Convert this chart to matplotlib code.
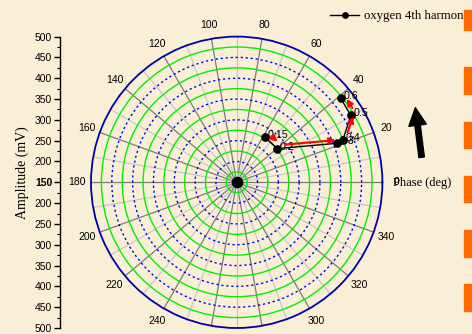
import numpy as np
import matplotlib
matplotlib.use('Agg')
import matplotlib.pyplot as plt
import matplotlib.transforms as mtransforms
from matplotlib.patches import Rectangle, FancyArrowPatch, ArrowStyle
from matplotlib.ticker import FixedLocator

# ---------------- data ----------------
phase_deg = [58.3, 39.6, 21.3, 21.6, 30.4, 38.9]
amplitude = [278, 277, 408, 424, 468, 471]
point_labels = ['0.15', '0.2', '0.3', '0.4', '0.5', '0.6']
arrow_pairs = [(0, 1), (1, 2), (3, 4), (4, 5)]
series_name = 'oxygen 4th harmonic'

r_min, r_max = 150, 500
r_major_grid = [175, 225, 275, 325, 375, 425, 475]
r_minor_grid = [200, 250, 300, 350, 400, 450]
theta_major = list(range(0, 360, 20))
theta_minor = list(range(10, 360, 20))
amp_tick_values = [150, 200, 250, 300, 350, 400, 450, 500]
amp_minor_values = [175, 225, 275, 325, 375, 425, 475]

plt.rcParams['font.family'] = ['Liberation Sans', 'DejaVu Sans']
SERIF = ['Liberation Serif', 'DejaVu Serif']

W, H = 472, 334
fig = plt.figure(figsize=(W / 100, H / 100), dpi=100)
fig.patch.set_facecolor('#F9EFD7')

cx, cy, R = 236.7, 182.3, 145.7
rect = [(cx - R) / W, (H - cy - R) / H, 2 * R / W, 2 * R / H]
ax = fig.add_axes(rect, projection='polar')
ax.set_facecolor('none')
ax.set_ylim(r_min, r_max)

# theta grid / ticks
ax.set_xticks(np.deg2rad(theta_major))
ax.set_xticklabels([str(t) for t in theta_major])
ax.xaxis.set_minor_locator(FixedLocator(np.deg2rad(theta_minor)))
ax.grid(which='major', axis='x', color='#7A7A7A', lw=0.9)
ax.grid(which='minor', axis='x', color='#C4C4C4', lw=0.8)
ax.tick_params(axis='x', which='major', direction='in', length=5, width=1,
               color='black', labelsize=7.5, pad=3)
ax.tick_params(axis='x', which='minor', direction='in', length=3, width=0.8,
               color='black')

# radial grid
ax.set_yticks(r_major_grid)
ax.set_yticklabels([])
ax.yaxis.set_minor_locator(FixedLocator(r_minor_grid))
ax.grid(which='major', axis='y', color='#00F000', lw=1.0, ls='-')
ax.grid(which='minor', axis='y', color='#0000FF', lw=1.0, ls=(0, (1.6, 2.0)))
ax.tick_params(axis='y', which='both', length=0)

ax.spines['polar'].set_color('#0000AA')
ax.spines['polar'].set_linewidth(1.3)

# convergence blob of the radial grid at the origin
ax.scatter([0], [r_min], s=55, color='black', zorder=4, clip_on=False)

theta = np.deg2rad(phase_deg)
ax.plot(theta, amplitude, '-o', color='black', lw=1.0, ms=5.2, zorder=5,
        label=series_name)

for th, r, lab in zip(theta, amplitude, point_labels):
    ax.annotate(lab, (th, r), xytext=(1.8, 1.5), textcoords='offset points',
                fontsize=7.7, ha='left', va='center', zorder=6)

off = mtransforms.ScaledTranslation(2.6 / 72, 2.6 / 72, fig.dpi_scale_trans)
tr = ax.transData + off
for i, j in arrow_pairs:
    ax.annotate('', xy=(theta[j], amplitude[j]), xycoords=tr,
                xytext=(theta[i], amplitude[i]), textcoords=tr,
                arrowprops=dict(arrowstyle='-|>', color='red', lw=1.5,
                                shrinkA=3, shrinkB=3.5, mutation_scale=9),
                zorder=7)

# amplitude scale on the left
ax2 = fig.add_axes([60.5 / W, rect[1], 0.002, rect[3]])
ax2.set_facecolor('none')
span = r_max - r_min
ax2.set_ylim(-span, span)
ax2.set_xlim(0, 1)
pos, labs = [], []
for v in amp_tick_values:
    for s in ((1,) if v == r_min else (1, -1)):
        pos.append(s * (v - r_min))
        labs.append(str(v))
ax2.set_yticks(pos)
ax2.set_yticklabels(labs)
mpos = [s * (v - r_min) for v in amp_minor_values for s in (1, -1)]
ax2.yaxis.set_minor_locator(FixedLocator(mpos))
ax2.tick_params(axis='y', which='major', direction='out', length=4, width=1,
                labelsize=7.5, pad=2)
ax2.tick_params(axis='y', which='minor', direction='out', length=2.5, width=0.8)
ax2.set_xticks([])
for s in ('top', 'right', 'bottom'):
    ax2.spines[s].set_visible(False)
ax2.spines['left'].set_linewidth(1.0)
for t in ax2.get_yticklabels():
    if t.get_text() == str(r_min):
        t.set_fontweight('bold')

fig.text(22 / W, (H - 173) / H, 'Amplitude (mV)', rotation=90, family=SERIF,
         fontsize=10, ha='center', va='center')
fig.text(393 / W, (H - 183) / H, 'Phase (deg)', family=SERIF, fontsize=9,
         ha='left', va='center')

# legend
handles, labels_ = ax.get_legend_handles_labels()
fig.legend(handles, labels_, loc='center left',
           bbox_to_anchor=(330 / W, (H - 16) / H), frameon=False,
           borderpad=0, borderaxespad=0, handlelength=2.3, handletextpad=0.35,
           markerscale=0.75, prop={'family': SERIF, 'size': 9.2})

# big black arrow
arr = FancyArrowPatch((422, H - 160), (415, H - 105),
                      transform=mtransforms.IdentityTransform(),
                      arrowstyle=ArrowStyle.Simple(head_length=0.55,
                                                   head_width=0.55,
                                                   tail_width=0.17),
                      mutation_scale=23, color='black', zorder=10)
fig.add_artist(arr)

# orange slide decorations
for y0, y1 in [(10, 30), (67, 94), (122, 148), (176, 202), (230, 257), (284, 311)]:
    fig.add_artist(Rectangle((464 / W, (H - y1) / H), 8 / W, (y1 - y0) / H,
                             transform=fig.transFigure, color='#FF6A00',
                             zorder=20))

fig.savefig('out.png', dpi=100, facecolor=fig.get_facecolor())
